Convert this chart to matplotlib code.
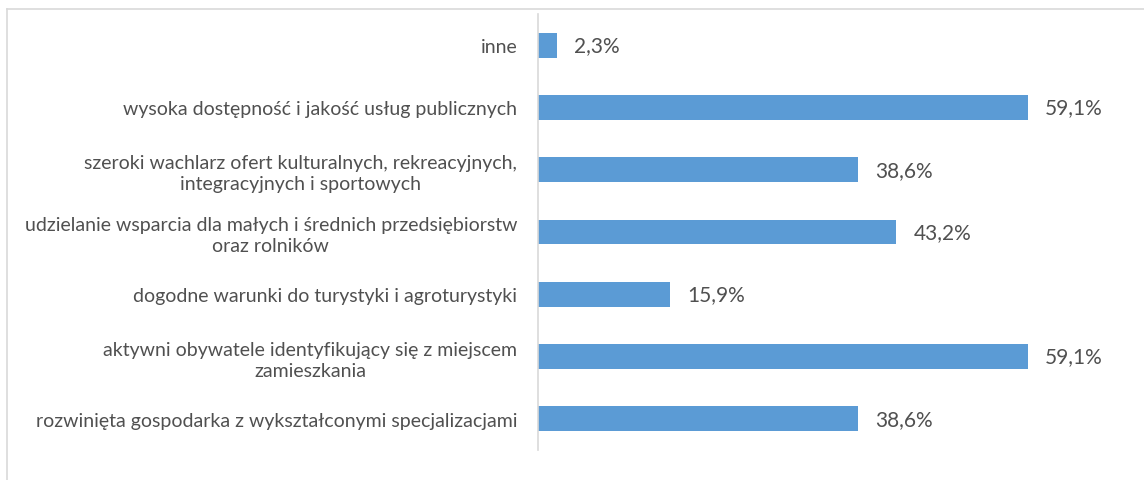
import matplotlib.pyplot as plt
from matplotlib.lines import Line2D

# Categories (top to bottom) and values in percent
categories = [
    'inne',
    'wysoka dostępność i jakość usług publicznych',
    'szeroki wachlarz ofert kulturalnych, rekreacyjnych,\nintegracyjnych i sportowych',
    'udzielanie wsparcia dla małych i średnich przedsiębiorstw\noraz rolników',
    'dogodne warunki do turystyki i agroturystyki',
    'aktywni obywatele identyfikujący się z miejscem\nzamieszkania',
    'rozwinięta gospodarka z wykształconymi specjalizacjami',
]
values = [2.3, 59.1, 38.6, 43.2, 15.9, 59.1, 38.6]
value_labels = ['2,3%', '59,1%', '38,6%', '43,2%', '15,9%', '59,1%', '38,6%']

plt.rcParams['font.family'] = ['Lato', 'DejaVu Sans']
text_color = '#505050'
bar_color = '#5b9bd5'

W, H = 1144, 481
fig = plt.figure(figsize=(W / 100, H / 100), dpi=100)
ax = fig.add_axes([538 / W, 1 - 451 / H, 580 / W, 436 / H])

ypos = list(range(len(categories)))
ax.barh(ypos, values, height=0.4, color=bar_color)
ax.set_ylim(len(categories) - 0.5, -0.5)
ax.set_xlim(0, 70)

for y, v, lab in zip(ypos, values, value_labels):
    ax.text(v + 2.1, y, lab, va='center', ha='left', fontsize=15, color=text_color)

ax.set_yticks(ypos)
ax.set_yticklabels(categories, fontsize=14, color=text_color, linespacing=1.25,
                   multialignment='center')
ax.tick_params(axis='y', length=0, pad=15)
ax.set_xticks([])
for s in ['top', 'right', 'bottom']:
    ax.spines[s].set_visible(False)
ax.spines['left'].set_color('#d9d9d9')
ax.spines['left'].set_linewidth(1.2)

# outer chart border (partially cropped in the reference)
fig.add_artist(Line2D([7 / W, 7 / W], [0, 1 - 10 / H], transform=fig.transFigure, color='#d9d9d9', lw=1.2))
fig.add_artist(Line2D([7 / W, 1], [1 - 10 / H, 1 - 10 / H], transform=fig.transFigure, color='#d9d9d9', lw=1.2))

fig.savefig('out.png', dpi=100)
